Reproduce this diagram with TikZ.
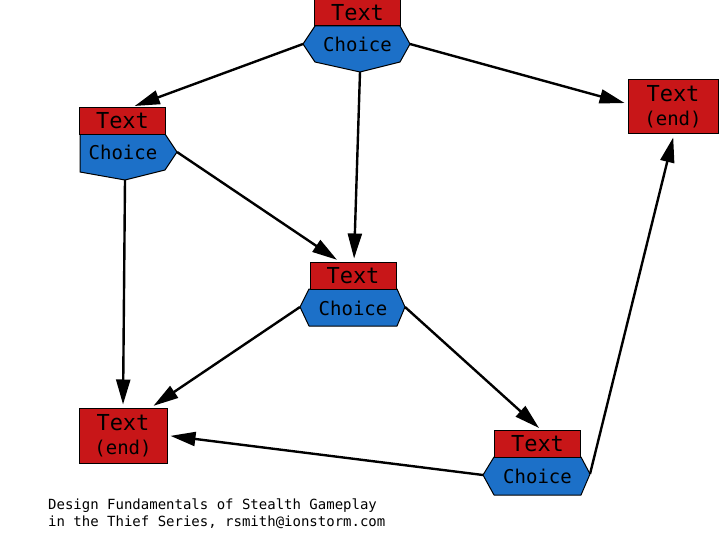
\documentclass[tikz,border=0pt]{standalone}
\usepackage{fontspec}
\setmonofont{DejaVu Sans Mono}
\usetikzlibrary{arrows.meta}
\definecolor{boxred}{RGB}{200,22,24}
\definecolor{boxblue}{RGB}{28,112,200}
\begin{document}
\begin{tikzpicture}[x=1pt,y=-1pt,
  redbox/.style={draw=black, line width=1pt, fill=boxred, minimum width=86pt, minimum height=27pt, inner sep=0pt, font=\ttfamily\fontsize{22}{24}\selectfont},
  endbox/.style={redbox, minimum height=55pt, align=center},
  bluepoly/.style={draw=black, line width=1pt, fill=boxblue, line join=round},
  lbl/.style={font=\ttfamily\fontsize{19}{20}\selectfont, inner sep=0pt},
  link/.style={draw=black, line width=2.4pt, -{Triangle[length=25pt,width=14pt]}, shorten >=3pt},
  foot/.style={font=\ttfamily\fontsize{14}{17}\selectfont, align=left, anchor=north west, inner sep=0pt}]
\useasboundingbox (0,0) rectangle (720,540);
% vertices of the choice shapes
\coordinate (c1L) at (303,44); \coordinate (c1R) at (410,44); \coordinate (c1B) at (360,72);
\coordinate (c2R) at (177,152); \coordinate (c2B) at (125,180);
\coordinate (c3L) at (300,307); \coordinate (c3R) at (405,307);
\coordinate (c6L) at (483,475); \coordinate (c6R) at (590,474);
% blue choice shapes
\path[bluepoly] (315,26) -- (400,26) -- (c1R) -- (400,62) -- (c1B) -- (315,62) -- (c1L) -- cycle;
\path[bluepoly] (80,134) -- (165,134) -- (c2R) -- (165,170) -- (c2B) -- (80,172) -- cycle;
\path[bluepoly] (309,289) -- (397,289) -- (c3R) -- (397,326) -- (309,326) -- (c3L) -- cycle;
\path[bluepoly] (494,457) -- (581,457) -- (c6R) -- (581,495) -- (494,495) -- (c6L) -- cycle;
% red text boxes
\node[redbox, minimum height=26pt] (t1) at (357.5,13) {Text};
\node[redbox, minimum height=27pt] (t2) at (122.5,121) {Text};
\node[redbox] (t3) at (353,275.5) {Text};
\node[redbox] (t6) at (537.5,444) {Text};
\node[endbox, minimum width=90pt, minimum height=54pt] (t4) at (673,107) {Text\\{\fontsize{19}{24}\selectfont(end)}};
\node[endbox, minimum width=88pt] (t5) at (123,435.5) {Text\\{\fontsize{19}{24}\selectfont(end)}};
% choice labels
\node[lbl] (c1) at (357.5,44) {Choice};
\node[lbl] (c2) at (123,152) {Choice};
\node[lbl] (c3) at (353,308) {Choice};
\node[lbl] (c6) at (537.5,476) {Choice};
% connectors
\draw[link] (c1L) -- (t2.56);
\draw[link] (c1R) -- (t4.176);
\draw[link] (c1B) -- (t3.86);
\draw[link] (c2R) -- (t3.134);
\draw[link] (c2B) -- (t5.north);
\draw[link] (c3L) -- (t5.45);
\draw[link] (c3R) -- (t6.75);
\draw[link] (c6L) -- (t5.east);
\draw[link] (c6R) -- (t4.272);
% footer
\node[foot] (credit) at (48,499) {Design Fundamentals of Stealth Gameplay\\in the Thief Series, rsmith@ionstorm.com};
\end{tikzpicture}
\end{document}
